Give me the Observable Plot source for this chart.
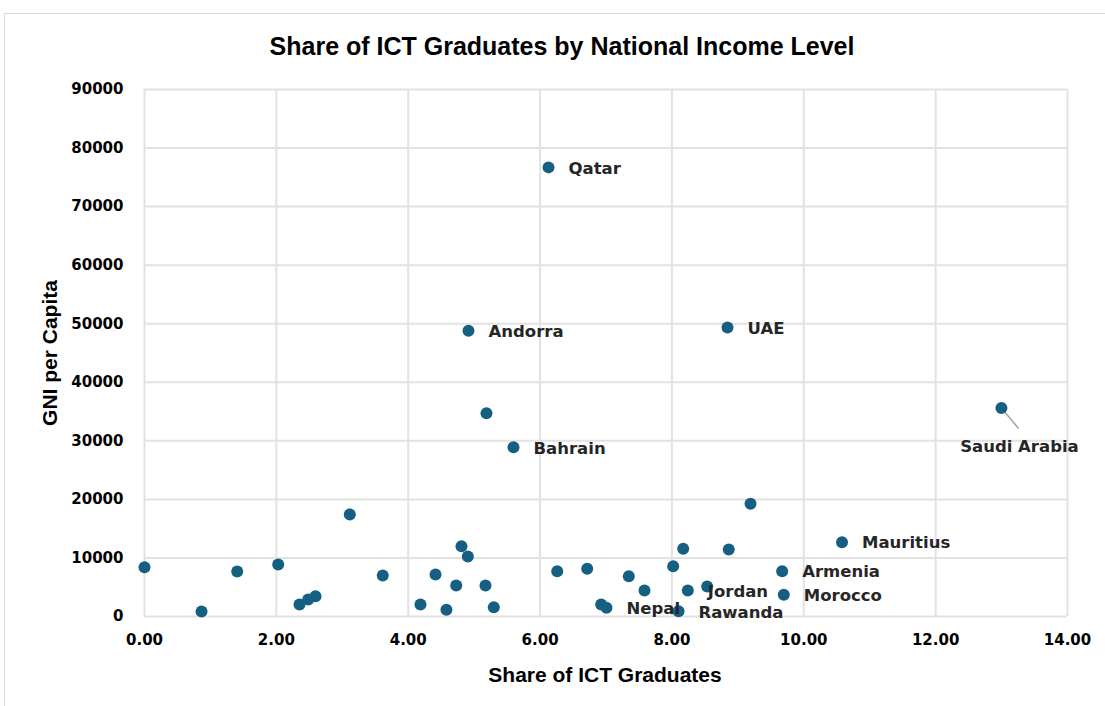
<!DOCTYPE html>
<html><head><meta charset="utf-8">
<script src="https://cdn.jsdelivr.net/npm/d3@7"></script>
<script src="https://cdn.jsdelivr.net/npm/@observablehq/plot@0.6"></script>
<style>
body{margin:0;background:#fff;overflow:hidden;}
#frame{position:absolute;left:4px;top:13px;width:1120px;height:720px;border:1px solid #d9d9d9;box-sizing:border-box;}
#title{position:absolute;left:0;top:31px;width:1124px;text-align:center;font:bold 25px "Liberation Sans",Arial,sans-serif;color:#000;line-height:30px;}
#xtitle{position:absolute;left:0;top:662px;width:1210px;text-align:center;font:bold 21px "Liberation Sans",Arial,sans-serif;color:#000;line-height:26px;}
#ytitle{position:absolute;left:50px;top:353px;transform:translate(-50%,-50%) rotate(-90deg);white-space:nowrap;font:bold 21px "Liberation Sans",Arial,sans-serif;color:#000;line-height:26px;}
#chart{position:absolute;left:0;top:70px;}
</style>
</head><body>
<div id="frame"></div>
<div id="title">Share of ICT Graduates by National Income Level</div>
<div id="chart"></div>
<div id="xtitle">Share of ICT Graduates</div>
<div id="ytitle">GNI per Capita</div>
<script>
const ictShare = [0.00, 0.865, 1.406, 2.028, 2.351, 2.483, 2.594, 3.114, 3.614, 4.186, 4.414, 4.58, 4.728, 4.808, 4.904, 4.914, 5.172, 5.187, 5.298, 5.597, 6.128, 6.26, 6.715, 6.927, 7.007, 7.346, 7.584, 8.019, 8.10, 8.171, 8.241, 8.535, 8.843, 8.862, 9.192, 9.672, 9.697, 10.58, 12.998];
const gniPerCapita = [8400, 850, 7680, 8880, 2050, 2900, 3470, 17400, 7000, 2050, 7170, 1140, 5290, 12000, 10250, 48800, 5290, 34700, 1590, 28900, 76700, 7740, 8150, 2050, 1490, 6880, 4440, 8590, 900, 11560, 4440, 5120, 49350, 11440, 19250, 7740, 3700, 12690, 35600];
const countryLabel = ["", "", "", "", "", "", "", "", "", "", "", "", "", "", "", "Andorra", "", "", "", "Bahrain", "Qatar", "", "", "", "Nepal", "", "", "", "Rawanda", "", "Jordan", "", "UAE", "", "", "Armenia", "Morocco", "Mauritius", "Saudi Arabia"];
const xTicks = [0, 2, 4, 6, 8, 10, 12, 14];
const yTicks = [0, 10000, 20000, 30000, 40000, 50000, 60000, 70000, 80000, 90000];

const data = ictShare.map((x, i) => ({x, y: gniPerCapita[i], label: countryLabel[i]}));
const sideLabels = data.filter(d => d.label && d.label !== "Saudi Arabia");
const calloutLabels = data.filter(d => d.label === "Saudi Arabia");

const dotColor = "#156082";
const gridColor = "#e2e2e2";
const tickFont = {fontFamily: "DejaVu Sans", fontWeight: "bold", fontSize: "15px"};

const chart = Plot.plot({
  width: 1105,
  height: 636,
  marginLeft: 144,
  marginRight: 38,
  marginTop: 19,
  marginBottom: 90,
  style: {background: "transparent", color: "#000", overflow: "visible"},
  x: {domain: [0, 14]},
  y: {domain: [0, 90000]},
  marks: [
    Plot.gridX(xTicks, {stroke: gridColor, strokeOpacity: 1, strokeWidth: 2}),
    Plot.gridY(yTicks, {stroke: gridColor, strokeOpacity: 1, strokeWidth: 2}),
    Plot.axisX(xTicks, {tickSize: 0, tickPadding: 18, tickFormat: d => d.toFixed(2), label: null, ...tickFont, fill: "#000"}),
    Plot.axisY(yTicks, {tickSize: 0, tickPadding: 21, tickFormat: d => String(d), label: null, ...tickFont, fill: "#000"}),
    Plot.vector(calloutLabels, {x: "x", y: "y", length: 26, rotate: 140, anchor: "start", r: 0, stroke: "#a6a6a6", strokeWidth: 1.5}),
    Plot.dot(data, {x: "x", y: "y", r: 6, fill: dotColor, stroke: "none"}),
    Plot.text(sideLabels, {x: "x", y: "y", text: "label", dx: 20, dy: 1, textAnchor: "start", fontFamily: "DejaVu Sans", fontWeight: "bold", fontSize: 16.5, fill: "#262626"}),
    Plot.text(calloutLabels, {x: "x", y: "y", text: "label", dx: 18, dy: 39, textAnchor: "middle", fontFamily: "DejaVu Sans", fontWeight: "bold", fontSize: 16.5, fill: "#262626"})
  ]
});
document.getElementById("chart").appendChild(chart);
</script>
</body></html>
